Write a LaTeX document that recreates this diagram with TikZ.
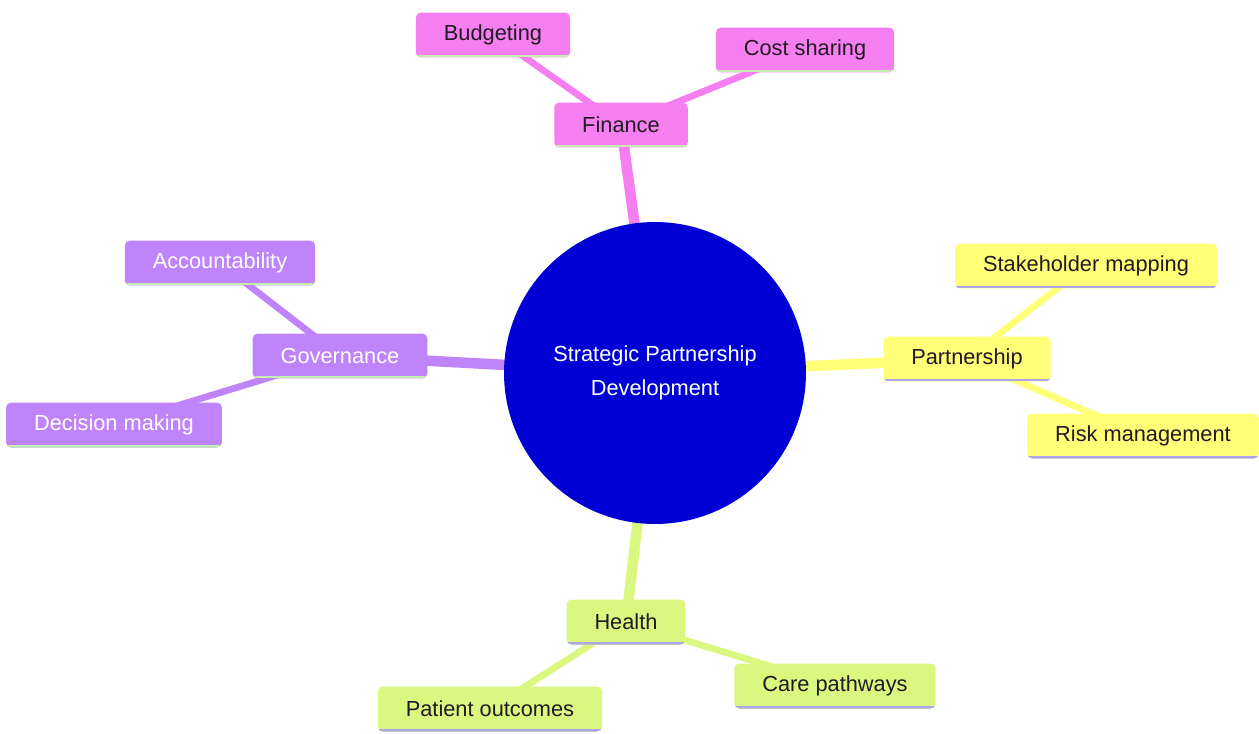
\documentclass[tikz,border=0pt]{standalone}
\usepackage{fontspec}
\setmainfont{Liberation Sans}
\usetikzlibrary{backgrounds}
\definecolor{fincol}{RGB}{245,127,240}
\definecolor{govcol}{RGB}{192,132,250}
\definecolor{parcol}{RGB}{255,255,120}
\definecolor{heacol}{RGB}{218,248,128}
\definecolor{rootcol}{RGB}{0,0,212}
\definecolor{txtcol}{RGB}{35,25,35}
\definecolor{greenline}{RGB}{196,238,176}
\definecolor{lavline}{RGB}{172,166,230}
\tikzset{
  box/.style={rectangle, rounded corners=0.1cm, inner xsep=0.56cm, minimum height=0.9cm,
    font=\fontsize{12.4}{15}\selectfont, text=txtcol},
  under/.style={path picture={\draw[#1, line width=1.6pt]
    ([yshift=0.8pt]path picture bounding box.south west) -- ([yshift=0.8pt]path picture bounding box.south east);}},
  fin/.style={box, fill=fincol, under=greenline},
  gov/.style={box, fill=govcol, under=greenline, text=white},
  par/.style={box, fill=parcol, under=lavline},
  hea/.style={box, fill=heacol, under=lavline},
  trunk/.style={line width=6pt},
  twig/.style={line width=3.8pt}
}

\begin{document}
\begin{tikzpicture}[x=0.02cm, y=-0.02cm]
	\useasboundingbox (0,0) rectangle (1259,734);
	% root
	\node[circle, fill=rootcol, minimum size=6.04cm, text=white, align=center,
	  font=\fontsize{12.4}{19.3}\selectfont] (root) at (655,373) {Strategic Partnership\\Development};
	% sections
	\node[fin] (finance) at (621,125) {Finance};
	\node[gov] (governance) at (340,356) {Governance};
	\node[par] (partnership) at (967,359) {Partnership};
	\node[hea] (health) at (626,622) {Health};
	% leaves
	\node[fin] (budgeting) at (493,35) {Budgeting};
	\node[fin] (costsharing) at (805,50) {Cost sharing};
	\node[gov] (accountability) at (220,263) {Accountability};
	\node[gov] (decision) at (114,425) {Decision making};
	\node[par] (stakeholder) at (1086,266) {Stakeholder mapping};
	\node[par] (risk) at (1143,436) {Risk management};
	\node[hea] (patient) at (490,709) {Patient outcomes};
	\node[hea] (care) at (835,686) {Care pathways};
	\begin{pgfonlayer}{background}
	\draw[trunk, fincol] (root.center) -- (finance.center);
	\draw[trunk, govcol] (root.center) -- (governance.center);
	\draw[trunk, parcol] (root.center) -- (partnership.center);
	\draw[trunk, heacol] (root.center) -- (health.center);
	\draw[twig, fincol] (finance.center) -- (budgeting.center);
	\draw[twig, fincol] (finance.center) -- (costsharing.center);
	\draw[twig, govcol] (governance.center) -- (accountability.center);
	\draw[twig, govcol] (governance.center) -- (decision.center);
	\draw[twig, parcol] (partnership.center) -- (stakeholder.center);
	\draw[twig, parcol] (partnership.center) -- (risk.center);
	\draw[twig, heacol] (health.center) -- (patient.center);
	\draw[twig, heacol] (health.center) -- (care.center);
	\end{pgfonlayer}
\end{tikzpicture}
\end{document}
